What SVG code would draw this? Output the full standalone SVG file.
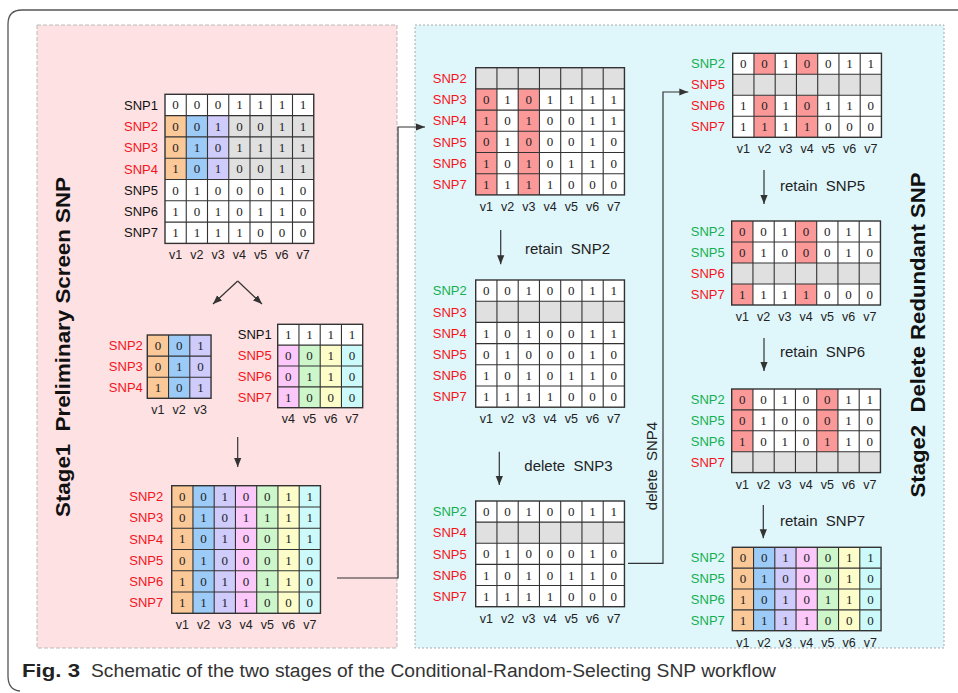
<svg xmlns="http://www.w3.org/2000/svg" xmlns:xlink="http://www.w3.org/1999/xlink" width="958" height="693" viewBox="0 0 958 693">
<style>
.d{font-family:"Liberation Serif",serif;font-size:13px;text-anchor:middle;fill:#222}
.l{font-family:"Liberation Sans",Arial,sans-serif;font-size:13px;text-anchor:end}
.r{fill:#f5141c}.g{fill:#14b050}.k{fill:#111}
.v{font-family:"Liberation Sans",Arial,sans-serif;font-size:12.5px;text-anchor:middle;fill:#222}
.grid{fill:none;stroke:#333;stroke-width:1.1}
.box{fill:none;stroke:#333;stroke-width:1.4}
.o{fill:#fbc898}.b{fill:#9ccbf7}.p{fill:#cfcbfb}.m{fill:#fcc8fa}.n{fill:#cdf6cb}.y{fill:#fdfdc9}.c{fill:#ccfafb}.gr{fill:#e0e0e0}.h{fill:#fb9999}.w{fill:#fff}
.t{font-family:"Liberation Sans",Arial,sans-serif;font-size:15px;fill:#222}
.st{font-family:"Liberation Sans",Arial,sans-serif;font-size:21px;font-weight:bold;fill:#111;text-anchor:middle}
.cn{fill:none;stroke:#333;stroke-width:1.2}
</style>
<defs>
<marker id="ah" viewBox="0 0 10 10" refX="10" refY="5" markerWidth="9" markerHeight="9" markerUnits="userSpaceOnUse" orient="auto"><path d="M0,1 L10,5 L0,9 z" fill="#333"/></marker>
<g id="v7"><text class="v"><tspan x="10.6">v1</tspan><tspan x="31.9">v2</tspan><tspan x="53.1">v3</tspan><tspan x="74.4">v4</tspan><tspan x="95.6">v5</tspan><tspan x="116.9">v6</tspan><tspan x="138.1">v7</tspan></text></g>
</defs>

<path d="M958 10 H22 Q8 10 8 24 V676 Q8 690 20 691" fill="none" stroke="#555" stroke-width="1.3"/>
<rect x="37" y="25" width="360" height="623" fill="#fde1e3" stroke="#bbb" stroke-dasharray="4,2"/>
<rect x="415" y="25" width="529" height="623" fill="#dff6fb" stroke="#aaa" stroke-dasharray="2,2"/>

<text class="st" transform="translate(70,347) rotate(-90)" textLength="340" lengthAdjust="spacingAndGlyphs" xml:space="preserve">Stage1  Preliminary Screen SNP</text>
<text class="st" transform="translate(925,335) rotate(-90)" textLength="325" lengthAdjust="spacingAndGlyphs" xml:space="preserve">Stage2  Delete Redundant SNP</text>

<g id="matA" transform="translate(165,94.3)">
<rect class="w" width="148.75" height="149.1"/>
<rect class="o" x="0" y="21.3" width="21.25" height="63.9"/>
<rect class="b" x="21.25" y="21.3" width="21.25" height="63.9"/>
<rect class="p" x="42.5" y="21.3" width="21.25" height="63.9"/>
<rect class="gr" x="63.75" y="21.3" width="85" height="63.9"/>
<path class="grid" d="M21.25 0V149.1M42.5 0V149.1M63.75 0V149.1M85 0V149.1M106.25 0V149.1M127.5 0V149.1M0 21.3H148.75M0 42.6H148.75M0 63.9H148.75M0 85.2H148.75M0 106.5H148.75M0 127.8H148.75"/>
<rect class="box" width="148.75" height="149.1"/>
<text class="d" x="10.6 31.9 53.1 74.4 95.6 116.9 138.1" y="15.15">0001111</text>
<text class="d" x="10.6 31.9 53.1 74.4 95.6 116.9 138.1" y="36.45">0010011</text>
<text class="d" x="10.6 31.9 53.1 74.4 95.6 116.9 138.1" y="57.75">0101111</text>
<text class="d" x="10.6 31.9 53.1 74.4 95.6 116.9 138.1" y="79.05">1010011</text>
<text class="d" x="10.6 31.9 53.1 74.4 95.6 116.9 138.1" y="100.35">0100010</text>
<text class="d" x="10.6 31.9 53.1 74.4 95.6 116.9 138.1" y="121.65">1010110</text>
<text class="d" x="10.6 31.9 53.1 74.4 95.6 116.9 138.1" y="142.95">1111000</text>
<text class="l k" x="-7" y="15.35">SNP1</text>
<text class="l r" x="-7" y="36.65">SNP2</text>
<text class="l r" x="-7" y="57.95">SNP3</text>
<text class="l r" x="-7" y="79.25">SNP4</text>
<text class="l k" x="-7" y="100.55">SNP5</text>
<text class="l k" x="-7" y="121.85">SNP6</text>
<text class="l k" x="-7" y="143.15">SNP7</text>
<use xlink:href="#v7" y="165.1"/>
</g>

<g id="matB" transform="translate(147.3,335)">
<rect class="o" x="0" width="21.25" height="63.3"/>
<rect class="b" x="21.25" width="21.25" height="63.3"/>
<rect class="p" x="42.5" width="21.25" height="63.3"/>
<path class="grid" d="M21.25 0V63.3M42.5 0V63.3M0 21.1H63.75M0 42.2H63.75"/>
<rect class="box" width="63.75" height="63.3"/>
<text class="d" x="10.6 31.9 53.1" y="15.05">001</text>
<text class="d" x="10.6 31.9 53.1" y="36.15">010</text>
<text class="d" x="10.6 31.9 53.1" y="57.25">101</text>
<text class="l r" x="-4.5" y="15.25">SNP2</text>
<text class="l r" x="-4.5" y="36.35">SNP3</text>
<text class="l r" x="-4.5" y="57.45">SNP4</text>
<text class="v" y="79"><tspan x="10.6">v1</tspan><tspan x="31.9">v2</tspan><tspan x="53.1">v3</tspan></text>
</g>

<g id="matC" transform="translate(277.7,324.3)">
<rect class="w" width="85" height="83.4"/>
<rect class="m" x="0" y="20.85" width="21.25" height="62.55"/>
<rect class="n" x="21.25" y="20.85" width="21.25" height="62.55"/>
<rect class="y" x="42.5" y="20.85" width="21.25" height="62.55"/>
<rect class="c" x="63.75" y="20.85" width="21.25" height="62.55"/>
<path class="grid" d="M21.25 0V83.4M42.5 0V83.4M63.75 0V83.4M0 20.85H85M0 41.7H85M0 62.55H85"/>
<rect class="box" width="85" height="83.4"/>
<text class="d" x="10.6 31.9 53.1 74.4" y="14.9">1111</text>
<text class="d" x="10.6 31.9 53.1 74.4" y="35.8">0010</text>
<text class="d" x="10.6 31.9 53.1 74.4" y="56.6">0110</text>
<text class="d" x="10.6 31.9 53.1 74.4" y="77.5">1000</text>
<text class="l k" x="-6" y="15.1">SNP1</text>
<text class="l r" x="-6" y="36">SNP5</text>
<text class="l r" x="-6" y="56.8">SNP6</text>
<text class="l r" x="-6" y="77.7">SNP7</text>
<text class="v" y="99"><tspan x="10.6">v4</tspan><tspan x="31.9">v5</tspan><tspan x="53.1">v6</tspan><tspan x="74.4">v7</tspan></text>
</g>

<g id="matD" transform="translate(171.7,485.7)">
<rect class="o" x="0" width="21.25" height="127.6"/>
<rect class="b" x="21.25" width="21.25" height="127.6"/>
<rect class="p" x="42.5" width="21.25" height="127.6"/>
<rect class="m" x="63.75" width="21.25" height="127.6"/>
<rect class="n" x="85" width="21.25" height="127.6"/>
<rect class="y" x="106.25" width="21.25" height="127.6"/>
<rect class="c" x="127.5" width="21.25" height="127.6"/>
<path class="grid" d="M21.25 0V127.6M42.5 0V127.6M63.75 0V127.6M85 0V127.6M106.25 0V127.6M127.5 0V127.6M0 21.27H148.75M0 42.53H148.75M0 63.8H148.75M0 85.07H148.75M0 106.33H148.75"/>
<rect class="box" width="148.75" height="127.6"/>
<text class="d" x="10.6 31.9 53.1 74.4 95.6 116.9 138.1" y="15.1">0010011</text>
<text class="d" x="10.6 31.9 53.1 74.4 95.6 116.9 138.1" y="36.4">0101111</text>
<text class="d" x="10.6 31.9 53.1 74.4 95.6 116.9 138.1" y="57.7">1010011</text>
<text class="d" x="10.6 31.9 53.1 74.4 95.6 116.9 138.1" y="78.9">0100010</text>
<text class="d" x="10.6 31.9 53.1 74.4 95.6 116.9 138.1" y="100.2">1010110</text>
<text class="d" x="10.6 31.9 53.1 74.4 95.6 116.9 138.1" y="121.5">1111000</text>
<text class="l r" x="-8.5" y="15.3">SNP2</text>
<text class="l r" x="-8.5" y="36.6">SNP3</text>
<text class="l r" x="-8.5" y="57.9">SNP4</text>
<text class="l r" x="-8.5" y="79.1">SNP5</text>
<text class="l r" x="-8.5" y="100.4">SNP6</text>
<text class="l r" x="-8.5" y="121.7">SNP7</text>
<use xlink:href="#v7" y="143.6"/>
</g>

<g id="matE" transform="translate(475.7,67.7)">
<rect class="w" width="148.75" height="127.2"/>
<rect class="gr" width="148.75" height="21.2"/>
<rect class="h" x="0" y="21.2" width="21.25" height="106"/>
<rect class="h" x="42.5" y="21.2" width="21.25" height="106"/>
<path class="grid" d="M21.25 0V127.2M42.5 0V127.2M63.75 0V127.2M85 0V127.2M106.25 0V127.2M127.5 0V127.2M0 21.2H148.75M0 42.4H148.75M0 63.6H148.75M0 84.8H148.75M0 106H148.75"/>
<rect class="box" width="148.75" height="127.2"/>
<text class="d" x="10.6 31.9 53.1 74.4 95.6 116.9 138.1" y="36.3">0101111</text>
<text class="d" x="10.6 31.9 53.1 74.4 95.6 116.9 138.1" y="57.5">1010011</text>
<text class="d" x="10.6 31.9 53.1 74.4 95.6 116.9 138.1" y="78.7">0100010</text>
<text class="d" x="10.6 31.9 53.1 74.4 95.6 116.9 138.1" y="99.9">1010110</text>
<text class="d" x="10.6 31.9 53.1 74.4 95.6 116.9 138.1" y="121.1">1111000</text>
<text class="l r" x="-9" y="15.3">SNP2</text>
<text class="l r" x="-9" y="36.5">SNP3</text>
<text class="l r" x="-9" y="57.7">SNP4</text>
<text class="l r" x="-9" y="78.9">SNP5</text>
<text class="l r" x="-9" y="100.1">SNP6</text>
<text class="l r" x="-9" y="121.3">SNP7</text>
<use xlink:href="#v7" y="143.2"/>
</g>

<g id="matF" transform="translate(475.7,280)">
<rect class="w" width="148.75" height="127.2"/>
<rect class="gr" y="21.2" width="148.75" height="21.2"/>
<path class="grid" d="M21.25 0V127.2M42.5 0V127.2M63.75 0V127.2M85 0V127.2M106.25 0V127.2M127.5 0V127.2M0 21.2H148.75M0 42.4H148.75M0 63.6H148.75M0 84.8H148.75M0 106H148.75"/>
<rect class="box" width="148.75" height="127.2"/>
<text class="d" x="10.6 31.9 53.1 74.4 95.6 116.9 138.1" y="15.1">0010011</text>
<text class="d" x="10.6 31.9 53.1 74.4 95.6 116.9 138.1" y="57.5">1010011</text>
<text class="d" x="10.6 31.9 53.1 74.4 95.6 116.9 138.1" y="78.7">0100010</text>
<text class="d" x="10.6 31.9 53.1 74.4 95.6 116.9 138.1" y="99.9">1010110</text>
<text class="d" x="10.6 31.9 53.1 74.4 95.6 116.9 138.1" y="121.1">1111000</text>
<text class="l g" x="-9" y="15.3">SNP2</text>
<text class="l r" x="-9" y="36.5">SNP3</text>
<text class="l r" x="-9" y="57.7">SNP4</text>
<text class="l r" x="-9" y="78.9">SNP5</text>
<text class="l r" x="-9" y="100.1">SNP6</text>
<text class="l r" x="-9" y="121.3">SNP7</text>
<use xlink:href="#v7" y="143.2"/>
</g>

<g id="matG" transform="translate(475.7,501)">
<rect class="w" width="148.75" height="105.7"/>
<rect class="gr" y="21.13" width="148.75" height="21.13"/>
<path class="grid" d="M21.25 0V105.7M42.5 0V105.7M63.75 0V105.7M85 0V105.7M106.25 0V105.7M127.5 0V105.7M0 21.13H148.75M0 42.27H148.75M0 63.4H148.75M0 84.53H148.75"/>
<rect class="box" width="148.75" height="105.7"/>
<text class="d" x="10.6 31.9 53.1 74.4 95.6 116.9 138.1" y="15.07">0010011</text>
<text class="d" x="10.6 31.9 53.1 74.4 95.6 116.9 138.1" y="57.3">0100010</text>
<text class="d" x="10.6 31.9 53.1 74.4 95.6 116.9 138.1" y="78.5">1010110</text>
<text class="d" x="10.6 31.9 53.1 74.4 95.6 116.9 138.1" y="99.6">1111000</text>
<text class="l g" x="-9" y="15.3">SNP2</text>
<text class="l r" x="-9" y="36.4">SNP4</text>
<text class="l r" x="-9" y="57.5">SNP5</text>
<text class="l r" x="-9" y="78.7">SNP6</text>
<text class="l r" x="-9" y="99.8">SNP7</text>
<use xlink:href="#v7" y="121.7"/>
</g>

<g id="matH" transform="translate(732.7,53.3)">
<rect class="w" width="148.75" height="84"/>
<rect class="gr" y="21" width="148.75" height="21"/>
<rect class="h" x="21.25" y="0" width="21.25" height="21"/>
<rect class="h" x="21.25" y="42" width="21.25" height="42"/>
<rect class="h" x="63.75" y="0" width="21.25" height="21"/>
<rect class="h" x="63.75" y="42" width="21.25" height="42"/>
<path class="grid" d="M21.25 0V84M42.5 0V84M63.75 0V84M85 0V84M106.25 0V84M127.5 0V84M0 21H148.75M0 42H148.75M0 63H148.75"/>
<rect class="box" width="148.75" height="84"/>
<text class="d" x="10.6 31.9 53.1 74.4 95.6 116.9 138.1" y="15">0010011</text>
<text class="d" x="10.6 31.9 53.1 74.4 95.6 116.9 138.1" y="57">1010110</text>
<text class="d" x="10.6 31.9 53.1 74.4 95.6 116.9 138.1" y="78">1111000</text>
<text class="l g" x="-7.7" y="15.2">SNP2</text>
<text class="l r" x="-7.7" y="36.2">SNP5</text>
<text class="l r" x="-7.7" y="57.2">SNP6</text>
<text class="l r" x="-7.7" y="78.2">SNP7</text>
<use xlink:href="#v7" y="100"/>
</g>

<g id="matI" transform="translate(731.7,221)">
<rect class="w" width="148.75" height="84"/>
<rect class="gr" y="42" width="148.75" height="21"/>
<rect class="h" x="0" y="0" width="21.25" height="42"/>
<rect class="h" x="0" y="63" width="21.25" height="21"/>
<rect class="h" x="63.75" y="0" width="21.25" height="42"/>
<rect class="h" x="63.75" y="63" width="21.25" height="21"/>
<path class="grid" d="M21.25 0V84M42.5 0V84M63.75 0V84M85 0V84M106.25 0V84M127.5 0V84M0 21H148.75M0 42H148.75M0 63H148.75"/>
<rect class="box" width="148.75" height="84"/>
<text class="d" x="10.6 31.9 53.1 74.4 95.6 116.9 138.1" y="15">0010011</text>
<text class="d" x="10.6 31.9 53.1 74.4 95.6 116.9 138.1" y="36">0100010</text>
<text class="d" x="10.6 31.9 53.1 74.4 95.6 116.9 138.1" y="78">1111000</text>
<text class="l g" x="-7" y="15.2">SNP2</text>
<text class="l g" x="-7" y="36.2">SNP5</text>
<text class="l r" x="-7" y="57.2">SNP6</text>
<text class="l r" x="-7" y="78.2">SNP7</text>
<use xlink:href="#v7" y="100"/>
</g>

<g id="matJ" transform="translate(731.7,389)">
<rect class="w" width="148.75" height="83.6"/>
<rect class="gr" y="62.7" width="148.75" height="20.9"/>
<rect class="h" x="0" y="0" width="21.25" height="62.7"/>
<rect class="h" x="85" y="0" width="21.25" height="62.7"/>
<path class="grid" d="M21.25 0V83.6M42.5 0V83.6M63.75 0V83.6M85 0V83.6M106.25 0V83.6M127.5 0V83.6M0 20.9H148.75M0 41.8H148.75M0 62.7H148.75"/>
<rect class="box" width="148.75" height="83.6"/>
<text class="d" x="10.6 31.9 53.1 74.4 95.6 116.9 138.1" y="14.95">0010011</text>
<text class="d" x="10.6 31.9 53.1 74.4 95.6 116.9 138.1" y="35.85">0100010</text>
<text class="d" x="10.6 31.9 53.1 74.4 95.6 116.9 138.1" y="56.75">1010110</text>
<text class="l g" x="-7" y="15.15">SNP2</text>
<text class="l g" x="-7" y="36.05">SNP5</text>
<text class="l g" x="-7" y="56.95">SNP6</text>
<text class="l r" x="-7" y="77.85">SNP7</text>
<use xlink:href="#v7" y="99.6"/>
</g>

<g id="matK" transform="translate(732.3,547.3)">
<rect class="o" x="0" width="21.25" height="83.4"/>
<rect class="b" x="21.25" width="21.25" height="83.4"/>
<rect class="p" x="42.5" width="21.25" height="83.4"/>
<rect class="m" x="63.75" width="21.25" height="83.4"/>
<rect class="n" x="85" width="21.25" height="83.4"/>
<rect class="y" x="106.25" width="21.25" height="83.4"/>
<rect class="c" x="127.5" width="21.25" height="83.4"/>
<path class="grid" d="M21.25 0V83.4M42.5 0V83.4M63.75 0V83.4M85 0V83.4M106.25 0V83.4M127.5 0V83.4M0 20.85H148.75M0 41.7H148.75M0 62.55H148.75"/>
<rect class="box" width="148.75" height="83.4"/>
<text class="d" x="10.6 31.9 53.1 74.4 95.6 116.9 138.1" y="14.9">0010011</text>
<text class="d" x="10.6 31.9 53.1 74.4 95.6 116.9 138.1" y="35.8">0100010</text>
<text class="d" x="10.6 31.9 53.1 74.4 95.6 116.9 138.1" y="56.6">1010110</text>
<text class="d" x="10.6 31.9 53.1 74.4 95.6 116.9 138.1" y="77.5">1111000</text>
<text class="l g" x="-7.5" y="15.1">SNP2</text>
<text class="l g" x="-7.5" y="36">SNP5</text>
<text class="l g" x="-7.5" y="56.8">SNP6</text>
<text class="l g" x="-7.5" y="77.7">SNP7</text>
<use xlink:href="#v7" y="99.4"/>
</g>

<g id="connectors">
<path class="cn" d="M237.7 281 L213 304" marker-end="url(#ah)"/>
<path class="cn" d="M237.7 281 L262 304" marker-end="url(#ah)"/>
<path class="cn" d="M237.7 437 V467" marker-end="url(#ah)"/>
<path class="cn" d="M337 578 H398 V127 H425" marker-end="url(#ah)"/>
<path class="cn" d="M500.7 230 V264.3" marker-end="url(#ah)"/>
<path class="cn" d="M499.3 451.7 V485" marker-end="url(#ah)"/>
<path class="cn" d="M628 563.3 H663 V92 H688.3" marker-end="url(#ah)"/>
<path class="cn" d="M764 170 V204" marker-end="url(#ah)"/>
<path class="cn" d="M764 338 V371" marker-end="url(#ah)"/>
<path class="cn" d="M763.3 505 V538.3" marker-end="url(#ah)"/>
</g>

<g id="labels">
<text class="t" x="525" y="253.7" xml:space="preserve">retain  SNP2</text>
<text class="t" x="524.3" y="471.4" xml:space="preserve">delete  SNP3</text>
<text class="t" x="780" y="191" xml:space="preserve">retain  SNP5</text>
<text class="t" x="780" y="357.4" xml:space="preserve">retain  SNP6</text>
<text class="t" x="780" y="526.4" xml:space="preserve">retain  SNP7</text>
<text class="t" transform="translate(657,466) rotate(-90)" text-anchor="middle" xml:space="preserve">delete  SNP4</text>
</g>

<text x="22" y="677" font-family="Liberation Sans,Arial,sans-serif" font-size="18" font-weight="bold" fill="#222" textLength="58" lengthAdjust="spacingAndGlyphs">Fig. 3</text>
<text x="91" y="677" font-family="Liberation Sans,Arial,sans-serif" font-size="18" fill="#333" textLength="685" lengthAdjust="spacingAndGlyphs">Schematic of the two stages of the Conditional-Random-Selecting SNP workflow</text>
</svg>
